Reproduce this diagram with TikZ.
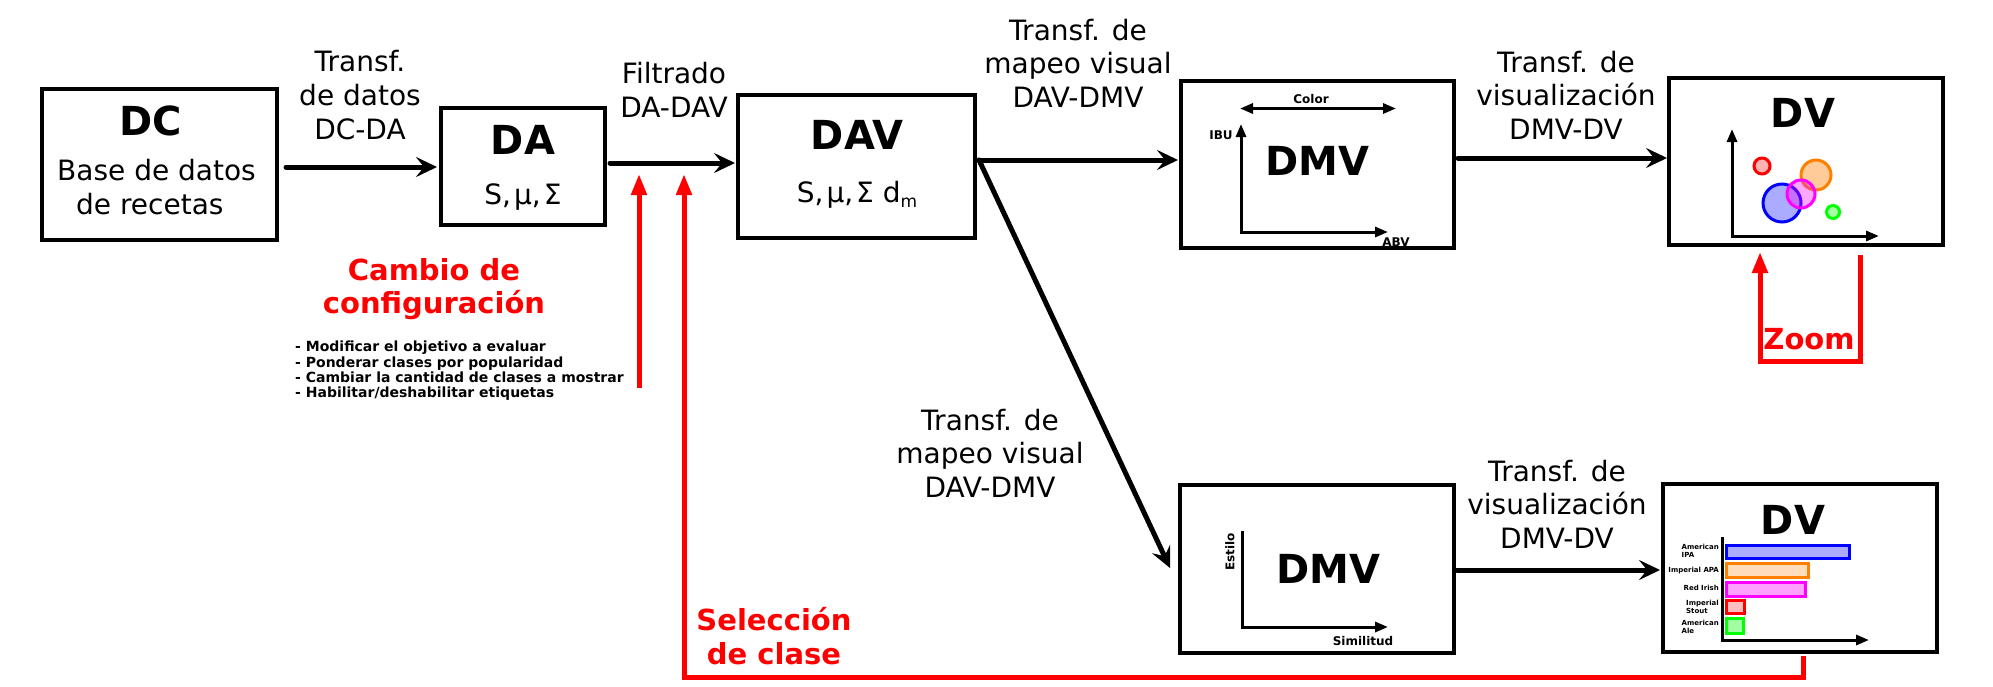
\documentclass[tikz,border=0pt]{standalone}
\usepackage{fontspec}
\setmainfont{DejaVu Sans}
\usetikzlibrary{arrows.meta,calc}
\definecolor{myred}{RGB}{255,0,0}
\definecolor{mblue}{RGB}{0,0,255}
\definecolor{morange}{RGB}{255,128,0}
\definecolor{mmag}{RGB}{255,0,255}
\definecolor{mgreen}{RGB}{0,255,0}
\begin{document}
\begin{tikzpicture}[x=1pt,y=-1pt,
  box/.style={draw, line width=3.2pt, inner sep=0pt, outer sep=0pt},
  lbl/.style={inner sep=0pt, align=center, font=\fontsize{28}{33.6}\selectfont},
  ttl/.style={inner sep=0pt, font=\fontsize{40}{48}\selectfont\bfseries},
  redlbl/.style={inner sep=0pt, align=center, text=myred, font=\fontsize{29}{33.5}\selectfont\bfseries},
  arr/.style={line width=5pt, line cap=round, -{Stealth[length=21pt,width=20pt,inset=8pt]}},
  redarr/.style={draw=myred, line width=5pt, -{Triangle[length=21pt,width=15pt]}},
  tip/.tip={Triangle[length=13pt,width=10pt]},
  axis/.style={line width=3pt},
  ax/.style={inner sep=0pt, font=\fontsize{12}{13}\selectfont\bfseries},
  barl/.style={inner sep=0pt, align=left, anchor=east, font=\fontsize{7}{7.8}\selectfont\bfseries},
  shp/.style={line width=3pt},
]
\useasboundingbox (0,0) rectangle (1993,686);

% boxes
\node[box, minimum width=235pt, minimum height=151pt] (DC) at (159.5,164.5) {};
\node[box, minimum width=164pt, minimum height=117pt] (DA) at (523,166.5) {};
\node[box, minimum width=237pt, minimum height=143pt] (DAV) at (856.5,166.5) {};
\node[box, minimum width=273pt, minimum height=167pt] (DMVa) at (1317.5,164.5) {};
\node[box, minimum width=274pt, minimum height=167pt] (DVa) at (1806,161.5) {};
\node[box, minimum width=274pt, minimum height=168pt] (DMVb) at (1317,569) {};
\node[box, minimum width=274pt, minimum height=168pt] (DVb) at (1800,568) {};

% box contents
\node[ttl] (tDC) at (151,121) {DC};
\node[lbl, align=left, anchor=west] (tBase) at (57,187) {Base de datos\\\hspace*{19pt}de recetas};
\node[ttl] (tDA) at (523,140) {DA};
\node[lbl] (sDA) at (523,197) {S,\hspace{3pt}μ,\hspace{3pt}Σ};
\node[ttl] (tDAV) at (857,135) {DAV};
\node[lbl] (sDAV) at (857,195) {S,\hspace{3pt}μ,\hspace{3pt}Σ d\raisebox{-5pt}{\fontsize{17}{17}\selectfont m}};
\node[ttl] (tDMVa) at (1317,161) {DMV};
\node[ttl] (tDVa) at (1803,113) {DV};
\node[ttl] (tDMVb) at (1328,569) {DMV};
\node[ttl] (tDVb) at (1793,520) {DV};

% DMV1 axes
\draw[axis, {tip}-{tip}] (1241,124) -- (1241,232) -- (1388,232);
\draw[axis, {tip}-{tip}] (1240,108.5) -- (1396,108.5);
\node[ax] (lColor) at (1311,99) {Color};
\node[ax] (lIBU) at (1221,135) {IBU};
\node[ax] (lABV) at (1396,242) {ABV};

% DV1 scatter
\draw[axis, {tip}-{tip}] (1732,129) -- (1732,236) -- (1879,236);
\draw[shp, draw=myred, fill=myred, fill opacity=0.3] (1762,166) circle[radius=8];
\draw[shp, draw=morange, fill=morange, fill opacity=0.4] (1816,175) circle[radius=15];
\draw[shp, draw=mblue, fill=mblue, fill opacity=0.33] (1782,203) circle[radius=19];
\draw[shp, draw=mmag, fill=mmag, fill opacity=0.35] (1801,194) circle[radius=14];
\draw[shp, draw=mgreen, fill=mgreen, fill opacity=0.35] (1833,212) circle[radius=6.5];

% DMV2 axes
\draw[axis, -{tip}] (1242,531) -- (1242,627) -- (1388,627);
\node[ax, rotate=90] (lEstilo) at (1230,552) {Estilo};
\node[ax] (lSim) at (1363,641) {Similitud};

% DV2 bars
\draw[axis, -{tip}] (1722,537) -- (1722,640) -- (1869,640);
\draw[shp, draw=mblue, fill=mblue, fill opacity=0.33] (1726.5,545.5) rectangle (1849.5,558.5);
\draw[shp, draw=morange, fill=morange, fill opacity=0.27] (1726.5,563.5) rectangle (1808.5,577.5);
\draw[shp, draw=mmag, fill=mmag, fill opacity=0.37] (1726.5,582.5) rectangle (1805.5,596.5);
\draw[shp, draw=myred, fill=myred, fill opacity=0.25] (1726.5,600.5) rectangle (1744.5,613.5);
\draw[shp, draw=mgreen, fill=mgreen, fill opacity=0.37] (1726.5,618.5) rectangle (1743.5,633.5);
\node[barl] (b1) at (1719,550.5) {American\\IPA};
\node[barl] (b2) at (1719,571) {Imperial APA};
\node[barl] (b3) at (1719,588) {Red Irish};
\node[barl] (b4) at (1719,606.5) {Imperial\\Stout};
\node[barl] (b5) at (1719,626.5) {American\\Ale};

% transformation labels
\node[lbl] (T1) at (360,95) {Transf.\\de datos\\DC-DA};
\node[lbl] (T2) at (674,90) {Filtrado\\DA-DAV};
\node[lbl] (T3) at (1078,63) {Transf. de\\mapeo visual\\DAV-DMV};
\node[lbl] (T4) at (1566,95) {Transf. de\\visualización\\DMV-DV};
\node[lbl] (T5) at (990,453) {Transf. de\\mapeo visual\\DAV-DMV};
\node[lbl] (T6) at (1557,504) {Transf. de\\visualización\\DMV-DV};

% black connectors
\coordinate (davout) at ($(DAV.east)+(4,-6.5)$);
\draw[arr] ($(DC.east)+(9,2.5)$) -- ($(DA.west)+(-4,0.5)$);
\draw[arr] ($(DA.east)+(5,-3.5)$) -- ($(DAV.west)+(-3,-3.5)$);
\draw[arr] (davout) -- ($(DMVa.west)+(-3,-4.5)$);
\draw[arr] (davout) -- ($(DMVb.west)+(-10,-1)$);
\draw[arr] ($(DMVa.east)+(4,-6.5)$) -- ($(DVa.west)+(-2,-3.5)$);
\draw[arr] ($(DMVb.east)+(3,1)$) -- ($(DVb.west)+(-3,2)$);

% red interactions
\node[redlbl] (cfg) at (434,289) {Cambio de\\configuración};
\node[inner sep=0pt, align=left, anchor=west, font=\fontsize{14}{15.4}\selectfont\bfseries] (opts) at (295,371)
  {- Modificar el objetivo a evaluar\\- Ponderar clases por popularidad\\- Cambiar la cantidad de clases a mostrar\\- Habilitar/deshabilitar etiquetas};
\coordinate (r1s) at (639,388);
\coordinate (r1e) at (639,174);
\draw[redarr] (r1s) -- (r1e);
\coordinate (r2e) at (684,174);
\draw[redarr] ($(DVb.south)+(3,4)$) |- (684,677) -- (r2e);
\node[redlbl] (sel) at (774,636) {Selección\\de clase};
\draw[redarr] ($(DVa.south)+(54,10)$) |- (1760,361) -- ($(DVa.south)+(-46,7)$);
\node[redlbl] (zoom) at (1809,339) {Zoom};
\end{tikzpicture}
\end{document}
